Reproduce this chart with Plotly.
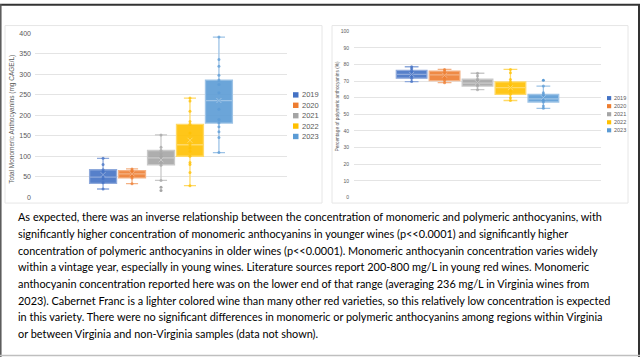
import plotly.graph_objects as go

W, H = 640, 360

years = ["2019", "2020", "2021", "2022", "2023"]
colors = ["#4472C4", "#ED7D31", "#A5A5A5", "#FFC000", "#5B9BD5"]
lines_c = ["#8EA9DB", "#F4B183", "#C9C9C9", "#FFD966", "#9DC3E6"]

# Monomeric anthocyanins (mg CAGE/L)
mono_q1 = [33.5, 47, 79, 100, 181]
mono_med = [49, 57, 96, 128, 236]
mono_q3 = [67, 65, 114, 178, 286]
mono_lo = [20, 33, 41, 28, 109]
mono_hi = [95, 69, 152, 242, 391]
mono_mean = [55, 57, 91, 139, 236]
mono_pts = [
    [20, 35, 45, 50, 55, 62, 67, 80, 95],
    [33, 47, 52, 55, 57, 60, 63, 65, 69],
    [41, 78, 85, 92, 96, 100, 106, 114, 122, 152],
    [28, 60, 80, 85, 100, 112, 120, 128, 140, 157, 178, 185, 210, 235, 242],
    [109, 146, 160, 172, 181, 190, 215, 236, 255, 275, 286, 298, 320, 336, 391],
]
mono_out = [[], [], [16, 24], [], []]
mono_letters = ["a", "a", "b", "c", "d"]
mono_letter_y = [111, 89, 170, 260, 405]
mono_ticks = list(range(0, 401, 50))

# Polymeric anthocyanins (%)
poly_q1 = [71.7, 70.3, 67, 62, 57.4]
poly_med = [74, 73.7, 68.8, 66, 59.3]
poly_q3 = [76.4, 76, 71.1, 69.5, 61.9]
poly_lo = [69.7, 69, 64.8, 58.3, 53.6]
poly_hi = [78.6, 77, 74.7, 77, 67]
poly_mean = [74, 73.5, 69, 66, 60]
poly_pts = [
    [69.7, 71.7, 73, 74, 75, 76.4, 77.5, 78.6],
    [69, 70.3, 72, 73.7, 74.5, 76, 77],
    [64.8, 67, 68, 68.8, 70, 71.1, 73, 74.7],
    [58.3, 60, 62, 64, 66, 67.5, 69.5, 71, 75, 77],
    [53.6, 55, 57.4, 58.5, 59.3, 60.5, 61.9, 63, 67],
]
poly_out = [[], [], [], [], [70.5]]
poly_letters = ["a", "a", "b", "c", "d"]
poly_letter_y = [82.5, 81.3, 79, 81, 76.5]
poly_ticks = list(range(0, 101, 10))

mono_title = "Total Monomeric Anthocyanins (mg CAGE/L)"
poly_title = "Percentage of polymeric anthocyanins (%)"

paragraph = [
    "As expected, there was an inverse relationship between the concentration of monomeric and polymeric anthocyanins, with",
    "significantly higher concentration of monomeric anthocyanins in younger wines (p<<0.0001) and significantly higher",
    "concentration of polymeric anthocyanins in older wines (p<<0.0001). Monomeric anthocyanin concentration varies widely",
    "within a vintage year, especially in young wines. Literature sources report 200-800 mg/L in young red wines. Monomeric",
    "anthocyanin concentration reported here was on the lower end of that range (averaging 236 mg/L in Virginia wines from",
    "2023). Cabernet Franc is a lighter colored wine than many other red varieties, so this relatively low concentration is expected",
    "in this variety. There were no significant differences in monomeric or polymeric anthocyanins among regions within Virginia",
    "or between Virginia and non-Virginia samples (data not shown).",
]


def px(x):
    return x / W


def py(y):
    return 1 - y / H


def rgba(hexc, a):
    h = hexc.lstrip("#")
    return "rgba(%d,%d,%d,%.2f)" % (int(h[0:2], 16), int(h[2:4], 16), int(h[4:6], 16), a)


fig = go.Figure()


def add_panel(xa, ya, q1, med, q3, lo, hi, mean, pts, outs, msize):
    for i, yr in enumerate(years):
        fig.add_trace(go.Box(
            x=[yr], q1=[q1[i]], median=[med[i]], q3=[q3[i]],
            lowerfence=[lo[i]], upperfence=[hi[i]],
            fillcolor=rgba(colors[i], 0.9), line=dict(color=lines_c[i], width=1.3),
            whiskerwidth=0.45, width=0.93, xaxis=xa, yaxis=ya, showlegend=False,
            hoverinfo="skip",
        ))
        fig.add_trace(go.Scatter(
            x=[yr] * len(pts[i]), y=pts[i], mode="markers", xaxis=xa, yaxis=ya,
            marker=dict(size=msize, color=rgba(colors[i], 0.75), symbol="circle"),
            showlegend=False, hoverinfo="skip",
        ))
        fig.add_trace(go.Scatter(
            x=[yr], y=[mean[i]], mode="markers", xaxis=xa, yaxis=ya,
            marker=dict(size=msize + 2, color=lines_c[i], symbol="x-thin",
                        line=dict(width=1, color=lines_c[i])),
            showlegend=False, hoverinfo="skip",
        ))
        if outs[i]:
            fig.add_trace(go.Scatter(
                x=[yr] * len(outs[i]), y=outs[i], mode="markers", xaxis=xa, yaxis=ya,
                marker=dict(size=msize, color=colors[i]),
                showlegend=False, hoverinfo="skip",
            ))


add_panel("x", "y", mono_q1, mono_med, mono_q3, mono_lo, mono_hi, mono_mean, mono_pts, mono_out, 3)
add_panel("x2", "y2", poly_q1, poly_med, poly_q3, poly_lo, poly_hi, poly_mean, poly_pts, poly_out, 3)

grid = "#E4E4E4"
fig.update_layout(
    width=W, height=H, margin=dict(l=0, r=0, t=0, b=0),
    paper_bgcolor="white", plot_bgcolor="white",
    font=dict(family="Liberation Sans", color="#595959"),
    xaxis=dict(domain=[px(35), px(287)], anchor="y", type="category",
               categoryorder="array", categoryarray=years, range=[-2.35, 6.35],
               showticklabels=False, showgrid=False, zeroline=False, ticks=""),
    yaxis=dict(domain=[py(197), py(30)], anchor="x", range=[0, 400],
               tickvals=mono_ticks, gridcolor=grid, gridwidth=1, zeroline=False,
               tickfont=dict(size=7, color="#595959"), ticklabelstandoff=3,
               showline=False),
    xaxis2=dict(domain=[px(354), px(601)], anchor="y2", type="category",
                categoryorder="array", categoryarray=years, range=[-1.75, 5.75],
                showticklabels=False, showgrid=False, zeroline=False, ticks=""),
    yaxis2=dict(domain=[py(197.3), py(27.7)], anchor="x2", range=[0, 100],
                tickvals=poly_ticks, gridcolor=grid, gridwidth=1, zeroline=False,
                tickfont=dict(size=5, color="#595959"), ticklabelstandoff=4,
                showline=False),
)

shapes = []
annotations = []

# page borders
shapes.append(dict(type="line", xref="paper", yref="paper", x0=0, x1=1, y0=py(0.8), y1=py(0.8),
                   line=dict(color="#333333", width=2)))
shapes.append(dict(type="line", xref="paper", yref="paper", x0=px(0.8), x1=px(0.8), y0=0, y1=1,
                   line=dict(color="#555555", width=1.5)))
shapes.append(dict(type="line", xref="paper", yref="paper", x0=px(639), x1=px(639), y0=0, y1=1,
                   line=dict(color="#333333", width=2)))
shapes.append(dict(type="line", xref="paper", yref="paper", x0=0, x1=1, y0=py(358.5), y1=py(358.5),
                   line=dict(color="#BFBFBF", width=1.5)))
# chart panel frames
for (x0, x1) in [(5, 322), (332, 628)]:
    shapes.append(dict(type="rect", xref="paper", yref="paper", x0=px(x0), x1=px(x1),
                       y0=py(203), y1=py(22), line=dict(color="#E6E6E6", width=1)))

# legends
for (lx, ly0, step, sw, fs) in [(293, 92.7, 10.6, 5.5, 7.5), (607, 96, 8.2, 4.2, 5.5)]:
    for i, yr in enumerate(years):
        yc = ly0 + i * step
        shapes.append(dict(type="rect", xref="paper", yref="paper",
                           x0=px(lx), x1=px(lx + sw), y0=py(yc + sw / 2), y1=py(yc - sw / 2),
                           fillcolor=colors[i], line=dict(width=0)))
        annotations.append(dict(xref="paper", yref="paper", x=px(lx + sw + 1), y=py(yc),
                                text=yr, showarrow=False, xanchor="left", yanchor="middle",
                                font=dict(size=fs, color="#595959")))

# significance letters
for i, yr in enumerate(years):
    annotations.append(dict(xref="x", yref="y", x=yr, y=mono_letter_y[i], text=mono_letters[i],
                            showarrow=False, font=dict(size=8.5, color="#111111")))
    annotations.append(dict(xref="x2", yref="y2", x=yr, y=poly_letter_y[i], text=poly_letters[i],
                            showarrow=False, font=dict(size=8, color="#111111")))

# axis titles
annotations.append(dict(xref="paper", yref="paper", x=px(12), y=py(118), text=mono_title,
                        textangle=-90, showarrow=False, xanchor="center", yanchor="middle",
                        font=dict(size=6.5, color="#595959")))
annotations.append(dict(xref="paper", yref="paper", x=px(337.5), y=py(104), text=poly_title,
                        textangle=-90, showarrow=False, xanchor="center", yanchor="middle",
                        font=dict(size=4.8, color="#595959")))

# paragraph
for i, line in enumerate(paragraph):
    annotations.append(dict(xref="paper", yref="paper", x=px(16), y=py(217 + i * 17.0), text=line,
                            showarrow=False, xanchor="left", yanchor="middle",
                            font=dict(family="Lato", size=10.9, color="#000000")))

fig.update_layout(shapes=shapes, annotations=annotations)
fig.write_html(
    "out.html",
    config={"displayModeBar": False},
    post_script="document.body.style.margin='0';document.body.style.overflow='hidden';",
)
